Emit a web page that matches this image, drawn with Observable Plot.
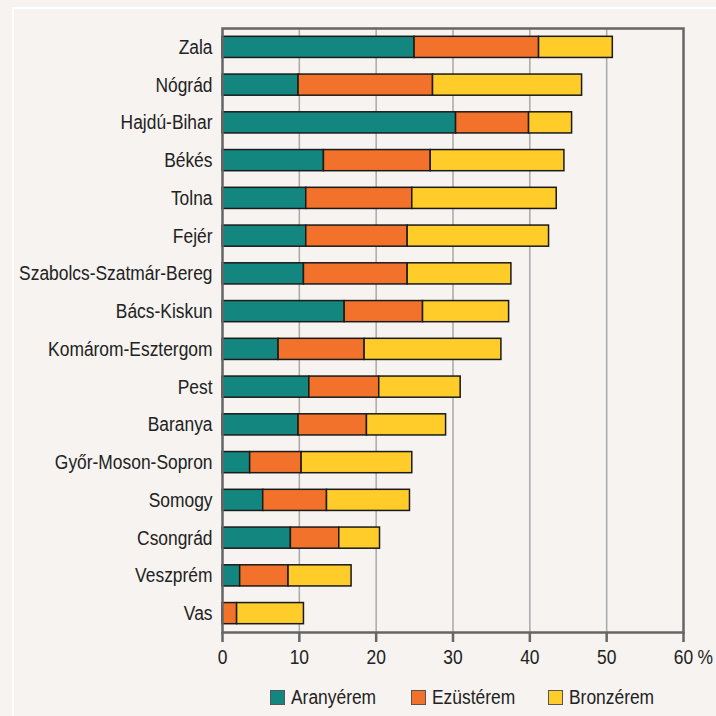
<!DOCTYPE html>
<html>
<head>
<meta charset="utf-8">
<script src="https://cdn.jsdelivr.net/npm/d3@7"></script>
<script src="https://cdn.jsdelivr.net/npm/@observablehq/plot@0.6"></script>
<style>
  html, body { margin: 0; padding: 0; background: #f6f3f0; }
  body { width: 716px; height: 716px; position: relative; overflow: hidden;
         font-family: "Liberation Sans", Arial, sans-serif; color: #222; }
  #rule { position: absolute; left: 12px; top: 7px; right: -10px; bottom: -10px;
          border-left: 2px solid #fff; border-top: 2px solid #fff; pointer-events: none; }
  #chart { position: absolute; left: 0; top: 0; }
  #legend { position: absolute; left: 0; top: 688px; width: 716px; height: 20px;
            font-size: 20px; line-height: 19px; color: #222; }
  .item { position: absolute; top: 0; display: flex; align-items: center; height: 19px; }
  .sw { width: 13px; height: 13px; border: 1.5px solid #555; margin-right: 6px; flex: none; }
  .lbl { display: inline-block; transform: scaleX(0.87); transform-origin: left center; white-space: nowrap; }
</style>
</head>
<body>
<div id="rule"></div>
<div id="chart"></div>
<div id="legend"></div>
<script>
const counties = ["Zala","Nógrád","Hajdú-Bihar","Békés","Tolna","Fejér","Szabolcs-Szatmár-Bereg","Bács-Kiskun","Komárom-Esztergom","Pest","Baranya","Győr-Moson-Sopron","Somogy","Csongrád","Veszprém","Vas"];
const gold   = [25.0, 9.9, 30.4, 13.2, 10.9, 10.9, 10.6, 15.9, 7.3, 11.3, 9.9, 3.6, 5.3, 8.9, 2.3, 0.0];
const silver = [16.2, 17.5, 9.5, 13.9, 13.8, 13.2, 13.5, 10.2, 11.2, 9.1, 8.9, 6.7, 8.3, 6.3, 6.3, 1.9];
const bronze = [9.6, 19.4, 5.6, 17.4, 18.8, 18.4, 13.5, 11.2, 17.8, 10.6, 10.3, 14.4, 10.8, 5.3, 8.2, 8.7];
const medals = ["Aranyérem","Ezüstérem","Bronzérem"];
const colors = ["#148680","#f2722c","#ffcc29"];
const xTicks = [0, 10, 20, 30, 40, 50, 60];
const gridTicks = [10, 20, 30, 40, 50];
const unitLabel = ["%"];

const series = [gold, silver, bronze];
const data = [];
counties.forEach((c, i) => {
  medals.forEach((m, j) => data.push({county: c, medal: m, value: series[j][i]}));
});

const chart = Plot.plot({
  width: 716,
  height: 672,
  marginLeft: 222,
  marginRight: 33,
  marginTop: 28,
  marginBottom: 40,
  style: {
    fontFamily: '"Liberation Sans", Arial, sans-serif',
    fontSize: "20px",
    color: "#222",
    background: "transparent"
  },
  x: {domain: [0, 60]},
  y: {domain: counties, paddingInner: 0.44, paddingOuter: 0.22, round: false},
  color: {domain: medals, range: colors},
  marks: [
    Plot.gridX(gridTicks, {stroke: "#a9a9a9", strokeOpacity: 1, strokeWidth: 1.5}),
    Plot.barX(data, Plot.stackX({
      x: "value", y: "county", fill: "medal", order: medals,
      stroke: "#1a1a1a", strokeWidth: 1.5
    })),
    Plot.frame({stroke: "#666", strokeWidth: 2.5}),
    Plot.axisX(xTicks, {
      tickSize: 10, tickPadding: 7, stroke: "#666", strokeWidth: 2.5,
      label: null, tickFormat: d => String(d)
    }),
    Plot.text(unitLabel, {
      x: 60, frameAnchor: "bottom", text: d => d, textAnchor: "start", lineAnchor: "top",
      dx: 14, dy: 17, fill: "#222", fontSize: 20
    }),
    Plot.axisY({tickSize: 0, tickPadding: 10, label: null})
  ]
});
document.getElementById("chart").appendChild(chart);

// condense glyphs horizontally to match the narrow lettering of the original
chart.querySelectorAll("text").forEach(t => {
  const len = t.getComputedTextLength();
  if (len > 0) {
    t.setAttribute("textLength", (len * 0.87).toFixed(2));
    t.setAttribute("lengthAdjust", "spacingAndGlyphs");
  }
});

const legend = document.getElementById("legend");
const legendLeft = [270, 411, 548];
medals.forEach((m, i) => {
  const item = document.createElement("div");
  item.className = "item";
  item.style.left = legendLeft[i] + "px";
  const sw = document.createElement("div");
  sw.className = "sw";
  sw.style.background = colors[i];
  const t = document.createElement("span");
  t.className = "lbl";
  t.textContent = m;
  item.appendChild(sw);
  item.appendChild(t);
  legend.appendChild(item);
});
</script>
</body>
</html>
